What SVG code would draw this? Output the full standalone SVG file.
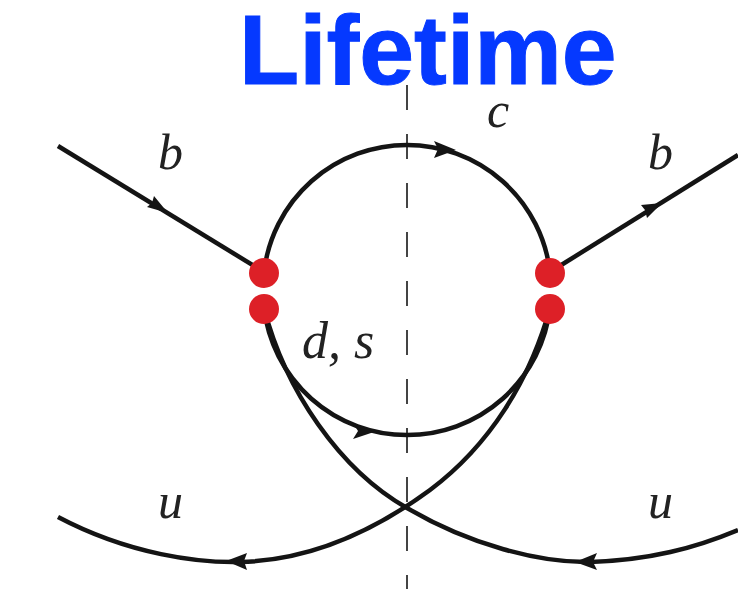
<svg xmlns="http://www.w3.org/2000/svg" width="738" height="589" viewBox="0 0 738 589">
<style>
.l{fill:none;stroke:#141414;stroke-width:4.500}
.d{fill:none;stroke:#444;stroke-width:2;stroke-dasharray:25 24}
.m{font-family:"Liberation Serif",serif;font-style:italic;font-size:50px;fill:#222}
.v{fill:#dd2027}
.a{fill:#141414}
.t{font-family:"Liberation Sans",Arial,sans-serif;font-weight:bold;font-size:98.500px;fill:#0539ff;stroke:#0539ff;stroke-width:1}
</style>
<rect width="738" height="589" fill="#fff"/>
<text id="title" class="t" x="239" y="84">Lifetime</text>
<g id="connectors">
<path class="d" d="M407 85V589"/>
<path class="l" d="M58 146L264 272"/>
<path class="l" d="M550 272L738 155"/>
<path class="l" d="M264 272A144 144 0 0 1 550 272"/>
<path class="l" d="M264 308A144 144 0 0 0 550 308"/>
<path class="l" d="M58 517C130 555 200 563 240 562C330 560 400 512 430 490C490 445 530 380 550 308"/>
<path class="l" d="M264 308C285 390 340 470 407 508C470 545 540 563 590 562C650 560 695 548 738 530"/>
<path class="a" d="M168 213L147 207L152 203L154 196Z"/>
<path class="a" d="M662 203L641 205L645 210L647 218Z"/>
<path class="a" d="M456 150L434 141L438 149L434 158Z"/>
<path class="a" d="M374 432L353 423L358 431L353 439Z"/>
<path class="a" d="M226 561L247 553L244 561L247 570Z"/>
<path class="a" d="M575 562L597 553L593 562L597 570Z"/>
</g>
<g id="vertex-top-left"><circle class="v" cx="264" cy="273" r="15"/></g>
<g id="vertex-bottom-left"><circle class="v" cx="264" cy="309" r="15"/></g>
<g id="vertex-top-right"><circle class="v" cx="550" cy="273" r="15"/></g>
<g id="vertex-bottom-right"><circle class="v" cx="550" cy="309" r="15"/></g>
<g id="labels">
<text class="m" x="158" y="169">b</text>
<text class="m" x="648" y="169">b</text>
<text class="m" x="487" y="127">c</text>
<text class="m" font-size="52" x="302" y="358" style="font-size:52px">d, s</text>
<text class="m" x="158" y="518">u</text>
<text class="m" x="648" y="518">u</text>
</g>
</svg>
